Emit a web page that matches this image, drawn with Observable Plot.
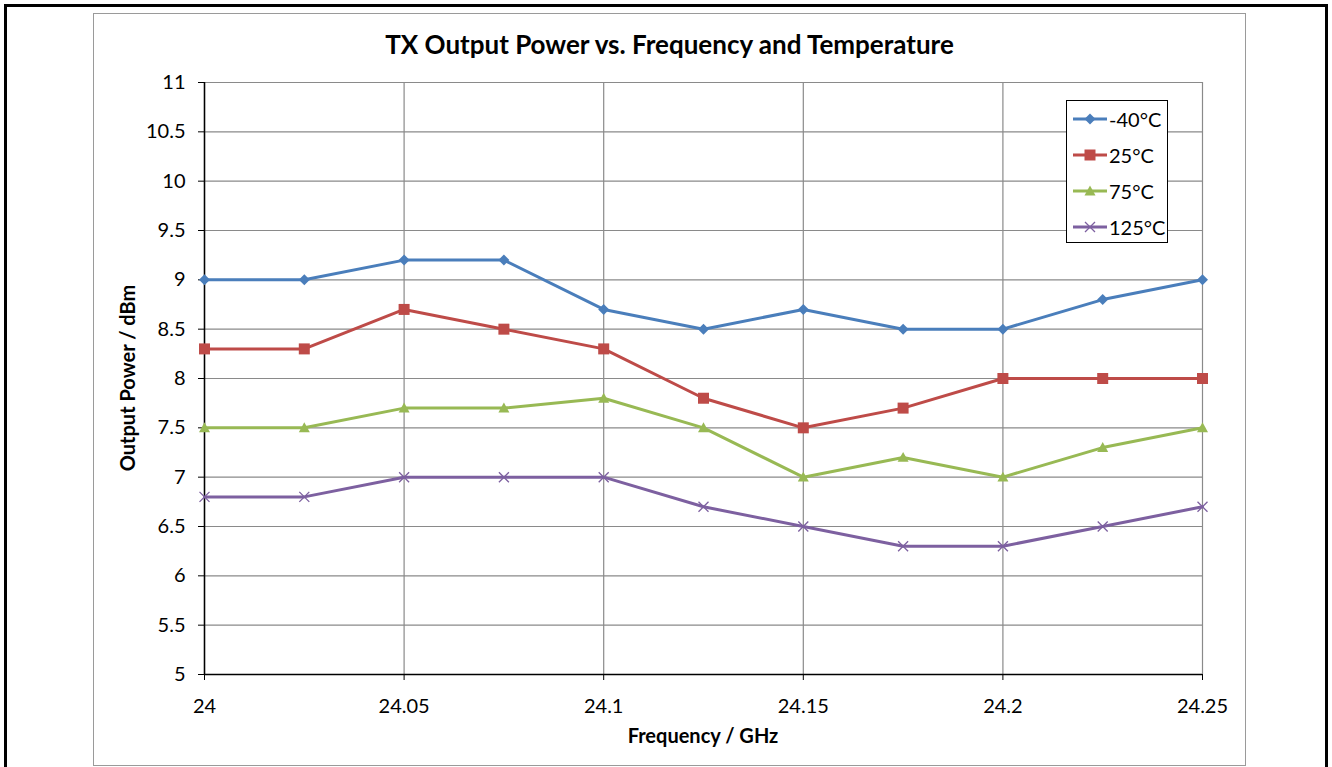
<!DOCTYPE html>
<html>
<head>
<meta charset="utf-8">
<script src="https://cdn.jsdelivr.net/npm/d3@7"></script>
<script src="https://cdn.jsdelivr.net/npm/@observablehq/plot@0.6"></script>
<style>
  html, body { margin: 0; padding: 0; background: #fff; }
  #wrap { position: relative; width: 1332px; height: 767px; overflow: hidden; font-family: Lato, "DejaVu Sans", sans-serif; }
  #outer { position: absolute; left: 4px; top: 4px; width: 1324px; height: 770px; border: 3px solid #000; box-sizing: border-box; }
  #inner { position: absolute; left: 93px; top: 13px; width: 1153px; height: 753px; border: 1px solid #9a9a9a; box-sizing: border-box; }
  #chart { position: absolute; left: 93px; top: 13px; }
  #title { position: absolute; left: 93px; width: 1153px; top: 28px; text-align: center; font-weight: bold; font-size: 26px; color: #000; }
  #xtitle { position: absolute; left: 204px; width: 998px; top: 723px; text-align: center; font-weight: bold; font-size: 20px; }
  #ytitle { position: absolute; left: 127px; top: 378px; transform: translate(-50%, -50%) rotate(-90deg); font-weight: bold; font-size: 20px; white-space: nowrap; }
  #legend { position: absolute; left: 1066px; top: 100px; width: 102px; height: 143px; border: 1px solid #000; box-sizing: border-box; background: #fff; }
  .item { position: absolute; left: 6px; height: 22px; display: flex; align-items: center; font-size: 20px; }
  .item svg { margin-right: 2px; }
</style>
</head>
<body>
<div id="wrap">
  <div id="outer"></div>
  <div id="inner"></div>
  <div id="chart"></div>
  <div id="title">TX Output Power vs. Frequency and Temperature</div>
  <div id="xtitle">Frequency / GHz</div>
  <div id="ytitle">Output Power / dBm</div>
  <div id="legend"></div>
</div>
<script>
const freq = [24, 24.025, 24.05, 24.075, 24.1, 24.125, 24.15, 24.175, 24.2, 24.225, 24.25];
const seriesNames = ["-40°C", "25°C", "75°C", "125°C"];
const powerM40 = [9.0, 9.0, 9.2, 9.2, 8.7, 8.5, 8.7, 8.5, 8.5, 8.8, 9.0];
const power25 = [8.3, 8.3, 8.7, 8.5, 8.3, 7.8, 7.5, 7.7, 8.0, 8.0, 8.0];
const power75 = [7.5, 7.5, 7.7, 7.7, 7.8, 7.5, 7.0, 7.2, 7.0, 7.3, 7.5];
const power125 = [6.8, 6.8, 7.0, 7.0, 7.0, 6.7, 6.5, 6.3, 6.3, 6.5, 6.7];
const xTicks = [24, 24.05, 24.1, 24.15, 24.2, 24.25];
const yTicks = [5, 5.5, 6, 6.5, 7, 7.5, 8, 8.5, 9, 9.5, 10, 10.5, 11];
const colors = ["#4a7ebb", "#be4b48", "#98b954", "#7d60a0"];
const symbolNames = ["diamond", "square", "triangle", "times"];

const allSeries = [powerM40, power25, power75, power125];
const data = [];
allSeries.forEach((vals, i) => vals.forEach((v, j) => data.push({series: seriesNames[i], f: freq[j], p: v})));

// marker half-extents in pixels
const markerHalf = {diamond: 5.5, square: 5.5, triangle: 5.5, times: 5};
function markerPath(s) {
  const h = markerHalf[s];
  if (s === "diamond") return `M0,${-h}L${h},0L0,${h}L${-h},0Z`;
  if (s === "square") return `M${-h},${-h}H${h}V${h}H${-h}Z`;
  if (s === "triangle") return `M0,${-h}L${h},${h * 0.8}L${-h},${h * 0.8}Z`;
  return `M${-h},${-h}L${h},${h}M${h},${-h}L${-h},${h}`;
}
const customSymbols = {};
symbolNames.forEach(s => {
  const p = new Path2D ? null : null;
  customSymbols[s] = {
    draw(context) {
      const h = markerHalf[s];
      if (s === "diamond") { context.moveTo(0, -h); context.lineTo(h, 0); context.lineTo(0, h); context.lineTo(-h, 0); context.closePath(); }
      else if (s === "square") { context.moveTo(-h, -h); context.lineTo(h, -h); context.lineTo(h, h); context.lineTo(-h, h); context.closePath(); }
      else if (s === "triangle") { context.moveTo(0, -h); context.lineTo(h, h * 0.8); context.lineTo(-h, h * 0.8); context.closePath(); }
      else { context.moveTo(-h, -h); context.lineTo(h, h); context.moveTo(h, -h); context.lineTo(-h, h); }
    }
  };
});

const dotMarks = seriesNames.map((name, i) => {
  const s = symbolNames[i];
  const isStroke = s === "times";
  return Plot.dot(data.filter(d => d.series === name), {
    x: "f", y: "p", symbol: customSymbols[s],
    fill: isStroke ? "none" : colors[i],
    stroke: isStroke ? colors[i] : "none",
    strokeWidth: 1.3
  });
});

const chart = Plot.plot({
  width: 1153,
  height: 753,
  marginLeft: 111,
  marginTop: 69,
  marginRight: 44,
  marginBottom: 92,
  style: {fontFamily: "Lato, sans-serif", fontSize: "20px", color: "#000", background: "transparent"},
  x: {type: "linear", domain: [24, 24.25]},
  y: {type: "linear", domain: [5, 11]},
  color: {domain: seriesNames, range: colors},
  marks: [
    Plot.gridX(xTicks, {stroke: "#8a8a8a", strokeOpacity: 1, strokeWidth: 1.2}),
    Plot.gridY(yTicks, {stroke: "#8a8a8a", strokeOpacity: 1, strokeWidth: 1.2}),
    Plot.axisX(xTicks, {tickSize: 6, tickPadding: 18, label: null, tickFormat: d => String(d), stroke: "#000"}),
    Plot.axisY(yTicks, {tickSize: 6, tickPadding: 13, label: null, tickFormat: d => String(d), stroke: "#000"}),
    Plot.ruleX([24], {stroke: "#000", strokeWidth: 1.5}),
    Plot.ruleY([5], {stroke: "#000", strokeWidth: 1.5}),
    Plot.line(data, {x: "f", y: "p", z: "series", stroke: "series", strokeWidth: 3}),
    ...dotMarks
  ]
});
document.getElementById("chart").appendChild(chart);

// legend
const legend = document.getElementById("legend");
const tops = [7, 43, 79, 115];
seriesNames.forEach((name, i) => {
  const item = document.createElement("div");
  item.className = "item";
  item.style.top = tops[i] + "px";
  const s = symbolNames[i];
  const isStroke = s === "times";
  item.innerHTML = `<svg width="34" height="22"><line x1="0" x2="34" y1="11" y2="11" stroke="${colors[i]}" stroke-width="3"/>` +
    `<path transform="translate(17,11)" d="${markerPath(s)}" fill="${isStroke ? 'none' : colors[i]}" stroke="${isStroke ? colors[i] : 'none'}" stroke-width="1.3"/></svg><span>${name}</span>`;
  legend.appendChild(item);
});
</script>
</body>
</html>
